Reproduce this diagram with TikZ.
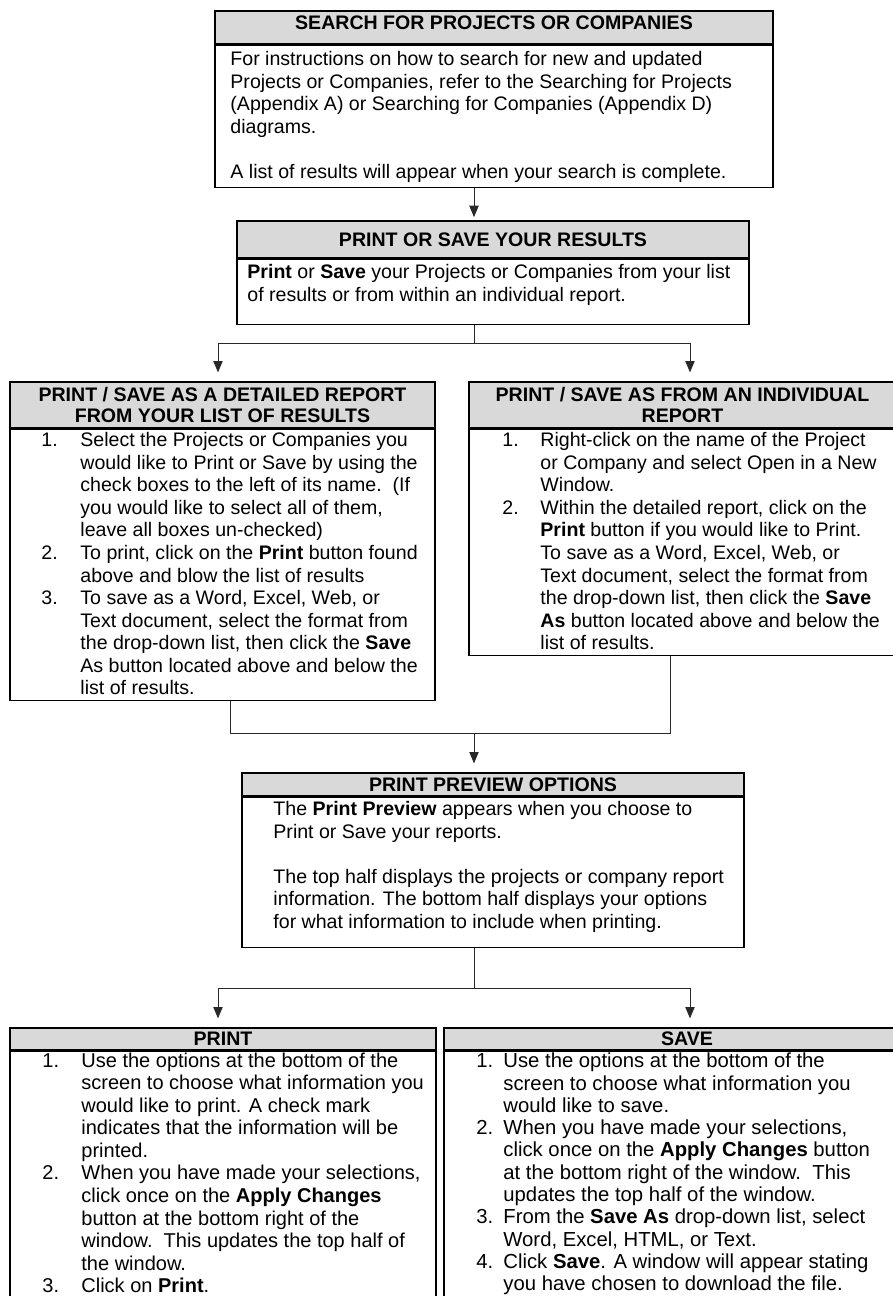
\documentclass[tikz,border=0pt]{standalone}
\usepackage{fontspec}
\setmainfont{Liberation Sans}
\usetikzlibrary{arrows.meta}

\definecolor{headgray}{RGB}{217,217,217}
\definecolor{linkgray}{RGB}{40,40,40}

\newcommand\boxfont{\fontsize{13.7}{15.8}\selectfont}
\newcommand\stepfont{\fontsize{14}{15.8}\selectfont}
\newcommand\savefont{\fontsize{14.2}{15.6}\selectfont}
% number column of the step lists
\newcommand\itm[2][27.3pt]{\makebox[#1][l]{#2}}

\tikzset{
  wd/.style={minimum width=#1*0.7pt},
  ht/.style={minimum height=#1*0.7pt},
  head/.style={draw, line width=1.2pt, fill=headgray, font=\fontsize{13.7}{14.7}\selectfont\bfseries,
    align=center, anchor=north, inner sep=0pt},
  body/.style={draw, line width=1.2pt, anchor=north, inner sep=0pt},
  txt/.style={anchor=north west, align=left, inner sep=0pt, font=\boxfont},
  link/.style={draw=linkgray, line width=0.7pt},
  arr/.style={link, -{Triangle[width=6.5pt,length=8pt]}, shorten >=6pt},
}

\begin{document}
\begin{tikzpicture}[x=0.7pt,y=-0.7pt]
\clip (0,0) rectangle (893,1296);

% search
\node[head, wd=558, ht=33, text depth=7pt] (searchhead) at (494,10) {SEARCH FOR PROJECTS OR COMPANIES};
\node[body, wd=558, ht=142] (search) at (searchhead.south) {};
\node[txt] (searchtext) at ([shift={(16,6.5)}]search.north west)
  {For instructions on how to search for new and updated\\
   Projects or Companies, refer to the Searching for Projects\\
   (Appendix A) or Searching for Companies (Appendix D)\\
   diagrams.\\ \mbox{}\\
   A list of results will appear when your search is complete.};

% print or save
\node[head, wd=512, ht=37] (resultshead) at (493,220) {PRINT OR SAVE YOUR RESULTS};
\node[body, wd=512, ht=65] (results) at (resultshead.south) {};
\node[txt] (resultstext) at ([shift={(11,5.5)}]results.north west)
  {\textbf{Print} or \textbf{Save} your Projects or Companies from your list\\
   of results or from within an individual report.};

% from the list of results
\node[head, wd=425, ht=46] (detailhead) at (222.5,381) {PRINT / SAVE AS A DETAILED REPORT\\FROM YOUR LIST OF RESULTS};
\node[body, wd=425, ht=271] (detail) at (detailhead.south) {};
\node[txt] (detailtext) at ([shift={(32,3.5)}]detail.north west)
  {\itm{1.}Select the Projects or Companies you\\
   \itm{}would like to Print or Save by using the\\
   \itm{}check boxes to the left of its name.\ \ (If\\
   \itm{}you would like to select all of them,\\
   \itm{}leave all boxes un-checked)\\
   \itm{2.}To print, click on the \textbf{Print} button found\\
   \itm{}above and blow the list of results\\
   \itm{3.}To save as a Word, Excel, Web, or\\
   \itm{}Text document, select the format from\\
   \itm{}the drop-down list, then click the \textbf{Save}\\
   \itm{}As button located above and below the\\
   \itm{}list of results.};

% from one report
\node[head, wd=427, ht=46] (singlehead) at (682.5,381) {PRINT / SAVE AS FROM AN INDIVIDUAL\\REPORT};
\node[body, wd=427, ht=226] (single) at (singlehead.south) {};
\node[txt] (singletext) at ([shift={(34,3.5)}]single.north west)
  {\itm[26.6pt]{1.}Right-click on the name of the Project\\
   \itm[26.6pt]{}or Company and select Open in a New\\
   \itm[26.6pt]{}Window.\\
   \itm[26.6pt]{2.}Within the detailed report, click on the\\
   \itm[26.6pt]{}\textbf{Print} button if you would like to Print.\\
   \itm[26.6pt]{}To save as a Word, Excel, Web, or\\
   \itm[26.6pt]{}Text document, select the format from\\
   \itm[26.6pt]{}the drop-down list, then click the \textbf{Save}\\
   \itm[26.6pt]{}\textbf{As} button located above and below the\\
   \itm[26.6pt]{}list of results.};

% print preview
\node[head, wd=502, ht=23] (previewhead) at (493,772) {PRINT PREVIEW OPTIONS};
\node[body, wd=502, ht=150] (preview) at (previewhead.south) {};
\node[txt] (previewtext) at ([shift={(32,4.5)}]preview.north west)
  {The \textbf{Print Preview} appears when you choose to\\
   Print or Save your reports.\\ \mbox{}\\
   The top half displays the projects or company report\\
   information. The bottom half displays your options\\
   for what information to include when printing.};

% print
\node[head, wd=426, ht=22] (printhead) at (223,1027) {PRINT};
\node[body, wd=426, ht=300] (print) at (printhead.south) {};
\node[txt, font=\stepfont] (printtext) at ([shift={(33,1.5)}]print.north west)
  {\itm{1.}Use the options at the bottom of the\\
   \itm{}screen to choose what information you\\
   \itm{}would like to print. A check mark\\
   \itm{}indicates that the information will be\\
   \itm{}printed.\\
   \itm{2.}When you have made your selections,\\
   \itm{}click once on the \textbf{Apply Changes}\\
   \itm{}button at the bottom right of the\\
   \itm{}window.\ \ This updates the top half of\\
   \itm{}the window.\\
   \itm{3.}Click on \textbf{Print}.};

% save
\node[head, wd=486, ht=22] (savehead) at (687,1027) {SAVE};
\node[body, wd=486, ht=300] (save) at (savehead.south) {};
\node[txt, font=\savefont] (savetext) at ([shift={(33,2)}]save.north west)
  {\itm[18.9pt]{1.}Use the options at the bottom of the\\
   \itm[18.9pt]{}screen to choose what information you\\
   \itm[18.9pt]{}would like to save.\\
   \itm[18.9pt]{2.}When you have made your selections,\\
   \itm[18.9pt]{}click once on the \textbf{Apply Changes} button\\
   \itm[18.9pt]{}at the bottom right of the window.\ \ This\\
   \itm[18.9pt]{}updates the top half of the window.\\
   \itm[18.9pt]{3.}From the \textbf{Save As} drop-down list, select\\
   \itm[18.9pt]{}Word, Excel, HTML, or Text.\\
   \itm[18.9pt]{4.}Click \textbf{Save}. A window will appear stating\\
   \itm[18.9pt]{}you have chosen to download the file.};

% connectors
\coordinate (spine) at (474,0);
\coordinate (toDetail) at (218,343);
\coordinate (toSingle) at (690,343);
\coordinate (fromDetail) at (230,733);
\coordinate (fromSingle) at (670,733);
\coordinate (join) at (474,733);
\coordinate (fork) at (474,988);
\coordinate (toPrint) at (218,988);
\coordinate (toSave) at (690,988);

\draw[arr, shorten >=2pt] (search.south -| spine) -- (resultshead.north -| spine);

\draw[link] (results.south -| spine) -- (toDetail -| spine);
\draw[link] (toDetail) -- (toSingle);
\draw[arr] (toDetail) -- (toDetail |- detailhead.north);
\draw[arr] (toSingle) -- (toSingle |- singlehead.north);

\draw[link] (detail.south -| fromDetail) -- (fromDetail) -- (fromSingle) -- (single.south -| fromSingle);
\draw[arr] (join) -- (join |- previewhead.north);

\draw[link] (preview.south -| fork) -- (fork);
\draw[link] (toPrint) -- (toSave);
\draw[arr] (toPrint) -- (toPrint |- printhead.north);
\draw[arr] (toSave) -- (toSave |- savehead.north);

\end{tikzpicture}
\end{document}
